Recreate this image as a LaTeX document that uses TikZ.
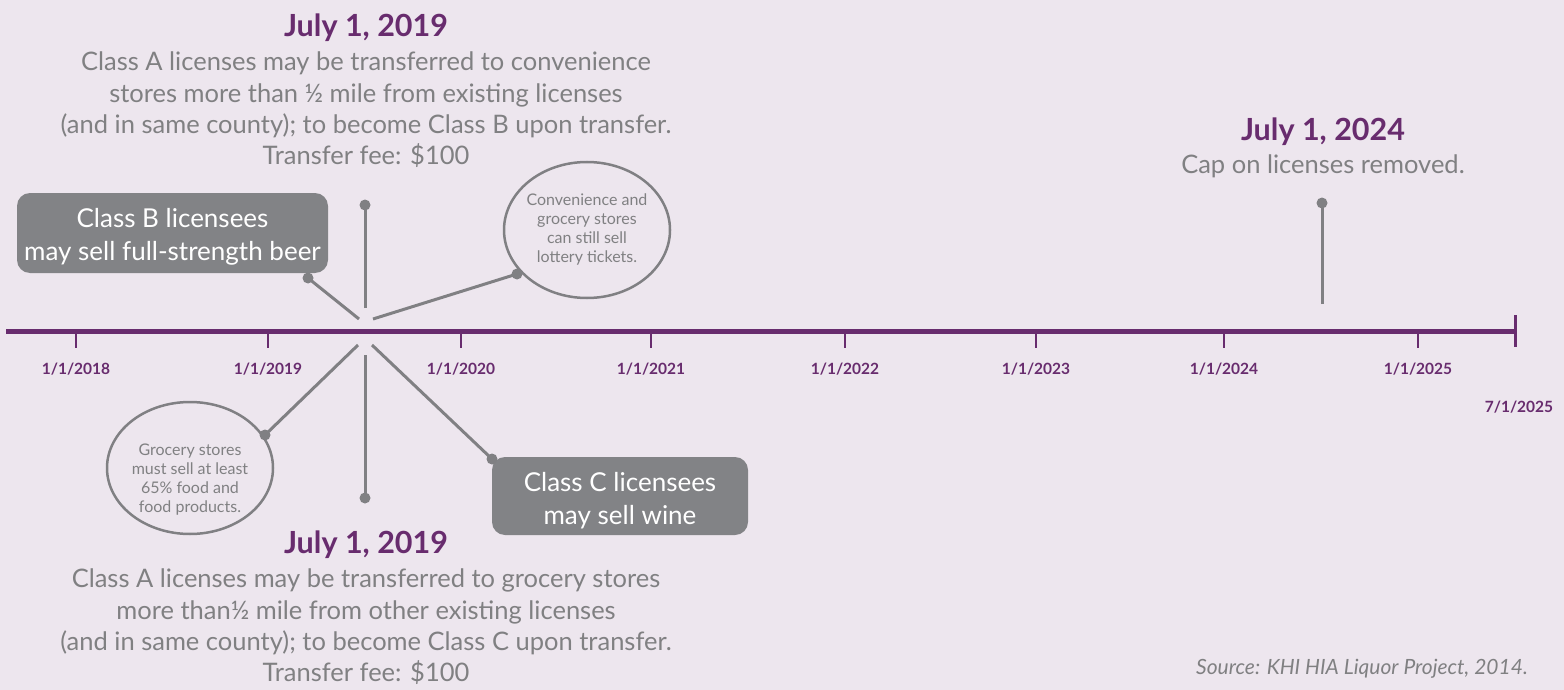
\documentclass[tikz,border=0pt]{standalone}
\usepackage{fontspec}
\setmainfont{Lato}
\usetikzlibrary{shapes.geometric}
\definecolor{bgc}{RGB}{237,230,238}
\definecolor{purp}{RGB}{104,44,110}
\definecolor{gline}{RGB}{128,128,131}
\definecolor{gbox}{RGB}{130,131,134}
\definecolor{gtext}{RGB}{128,128,130}
\tikzset{
  axisline/.style={draw=purp, line width=5pt},
  tickline/.style={draw=purp, line width=2.6pt},
  ticklabel/.style={text=purp, font=\fontsize{15.5}{18}\selectfont\bfseries, inner sep=0pt},
  conn/.style={draw=gline, line width=3pt},
  dotnode/.style={circle, fill=gline, inner sep=0pt, minimum size=11pt},
  datetitle/.style={text=purp, font=\fontsize{30.5}{34}\selectfont\bfseries, inner sep=0pt},
  bodytext/.style={text=gtext, font=\fontsize{25.5}{31.3}\selectfont, align=center, inner sep=0pt},
  greybox/.style={rounded corners=13pt, fill=gbox, inner sep=0pt},
  boxtext/.style={text=white, font=\fontsize{26}{33}\selectfont, align=center, inner sep=0pt},
  bubble/.style={ellipse, draw=gline, line width=2.5pt, inner sep=0pt},
  bubbletext/.style={text=gtext, font=\fontsize{16}{19}\selectfont, align=center, inner sep=0pt},
}
\begin{document}
\begin{tikzpicture}[x=1pt,y=-1pt]
\fill[bgc] (0,0) rectangle (1564,690);
\useasboundingbox (0,0) rectangle (1564,690);

% axis
\coordinate (axL) at (6,331);
\coordinate (axR) at (1515,331);
\draw[axisline] (axL) -- (axR);
\coordinate (endT) at (1515,315);
\coordinate (endB) at (1515,347);
\draw[tickline, line width=3pt] (endT) -- (endB);

\foreach \x/\lab/\nm in {76/1\slash 1\slash 2018/a,268/1\slash 1\slash 2019/b,461/1\slash 1\slash 2020/c,651/1\slash 1\slash 2021/d,845/1\slash 1\slash 2022/e,1036/1\slash 1\slash 2023/f,1224/1\slash 1\slash 2024/g,1418/1\slash 1\slash 2025/h}{
  \coordinate (tk\nm) at (\x,333);
  \coordinate (tb\nm) at (\x,348);
  \draw[tickline] (tk\nm) -- (tb\nm);
  \node[ticklabel] (lab\nm) at (\x,369) {\lab};
}
\node[ticklabel] (labend) at (1519,407) {7/1/2025};

% top text block
\node[datetitle] (title1) at (366,28) {July 1, 2019};
\node[bodytext] (body1) at (366,110) {Class A licenses may be transferred to convenience\\stores more than ½ mile from existing licenses\\(and in same county); to become Class B upon transfer.\\Transfer fee: \$100};

% bottom text block
\node[datetitle] (title2) at (366,545) {July 1, 2019};
\node[bodytext] (body2) at (366,627) {Class A licenses may be transferred to grocery stores\\more than½ mile from other existing licenses\\(and in same county); to become Class C upon transfer.\\Transfer fee: \$100};

% 2024
\node[datetitle] (title3) at (1323,132) {July 1, 2024};
\node[bodytext] (body3) at (1323,166) {Cap on licenses removed.};

% boxes
\node[greybox, minimum width=311pt, minimum height=80pt] (boxB) at (172.5,233) {};
\node[boxtext] (boxBt) at (172.5,237) {Class B licensees\\may sell full-strength beer};
\node[greybox, minimum width=256pt, minimum height=78pt] (boxC) at (620,496) {};
\node[boxtext] (boxCt) at (620,501) {Class C licensees\\may sell wine};

% bubbles
\node[bubble, minimum width=166pt, minimum height=136pt] (bubU) at (587,230) {};
\node[bubbletext] (bubUt) at (587,229) {Convenience and\\grocery stores\\can still sell\\lottery tickets.};
\node[bubble, minimum width=166pt, minimum height=132pt] (bubL) at (190,468) {};
\node[bubbletext] (bubLt) at (190,480) {Grocery stores\\must sell at least\\65\% food and\\food products.};

% dots
\node[dotnode] (dB) at (308,278) {};
\node[dotnode] (dUp) at (365,205) {};
\node[dotnode] (dUR) at (517,274) {};
\node[dotnode] (dLL) at (265,435) {};
\node[dotnode] (dDn) at (365,498) {};
\node[dotnode] (dC) at (492,459) {};
\node[dotnode] (d24) at (1322,203) {};

% hub ends
\coordinate (hB) at (359,319);
\coordinate (hUp) at (365,308);
\coordinate (hUR) at (373,319);
\coordinate (hLL) at (358,345);
\coordinate (hDn) at (365,355);
\coordinate (hC) at (372,345);
\coordinate (h24) at (1322,304);

\draw[conn] (hB) -- (dB.center);
\draw[conn] (hUp) -- (dUp.center);
\draw[conn] (hUR) -- (dUR.center);
\draw[conn] (hLL) -- (dLL.center);
\draw[conn] (hDn) -- (dDn.center);
\draw[conn] (hC) -- (dC.center);
\draw[conn] (h24) -- (d24.center);

% source
\node[text=gtext, font=\fontsize{21}{23}\selectfont\itshape, anchor=east, inner sep=0pt] (src) at (1528,669) {Source: KHI HIA Liquor Project, 2014.};
\end{tikzpicture}
\end{document}
